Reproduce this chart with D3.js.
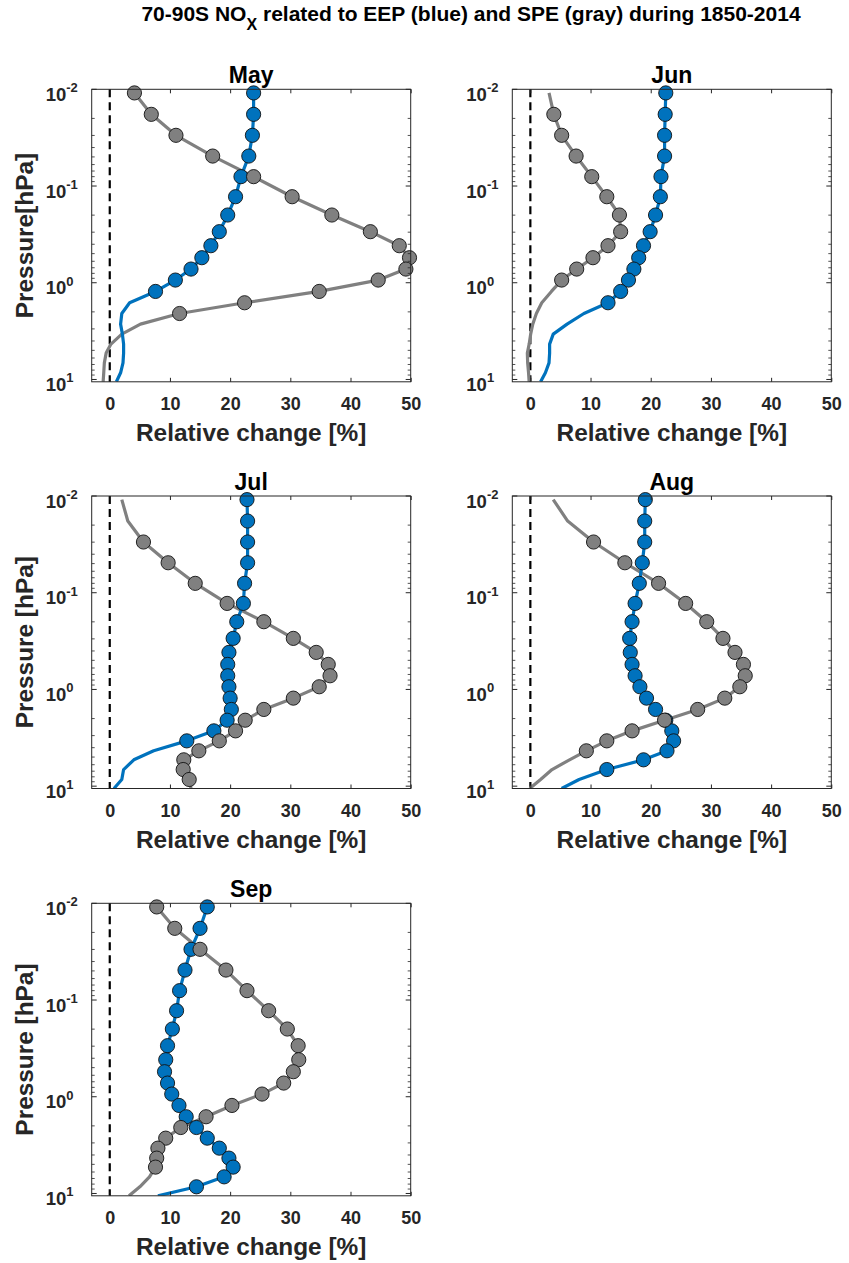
<!DOCTYPE html>
<html>
<head>
<meta charset="utf-8">
<script src="https://cdn.jsdelivr.net/npm/d3@7"></script>
<style>
  html, body { margin: 0; padding: 0; background: #fff; }
  svg { display: block; font-family: "Liberation Sans", Arial, Helvetica, sans-serif; font-weight: bold; }
</style>
</head>
<body>
<svg id="chart" width="849" height="1263"></svg>
<script>
// Model pressure levels (hPa), from the top level down to ~10 hPa
const levels = [0.0109, 0.01815, 0.0299, 0.049, 0.080, 0.129, 0.1994, 0.2965, 0.414, 0.551, 0.722,
                0.938, 1.23, 1.61, 2.08, 2.68, 3.40, 4.31, 5.34, 6.73, 8.53, 10.57];

// Axis ticks
const xTicks = [0, 10, 20, 30, 40, 50];
const yTicks = [0.01, 0.1, 1, 10];
const months = ["May", "Jun", "Jul", "Aug", "Sep"];
const yLabels = ["Pressure[hPa]", "", "Pressure [hPa]", "", "Pressure [hPa]"];

// Relative change [%] of 70-90S NOx attributed to EEP (blue), one value per level
const eepMay = [23.9, 23.9, 23.7, 23.1, 21.8, 20.9, 19.6, 18.2, 16.8, 15.3, 13.5, 10.9, 7.6, 3.3, 2.0, 1.8, 2.1, 2.3, 2.3, 2.2, 1.8, 1.1];
const eepJun = [22.5, 22.4, 22.3, 22.3, 21.7, 21.6, 20.8, 19.9, 18.8, 18.0, 17.2, 16.3, 15.0, 12.9, 8.9, 6.1, 3.8, 3.2, 3.2, 3.1, 2.5, 1.7];
const eepJul = [22.8, 22.9, 22.9, 22.9, 22.4, 22.2, 21.1, 20.5, 19.8, 19.6, 19.6, 19.8, 20.0, 20.2, 19.5, 17.3, 12.8, 7.3, 4.0, 2.3, 2.0, 0.7];
const eepAug = [19.1, 19.0, 19.0, 18.6, 18.1, 17.4, 16.9, 16.5, 16.6, 16.9, 17.4, 18.2, 19.3, 20.8, 22.5, 23.5, 23.8, 22.7, 18.8, 12.7, 8.1, 5.2];
const eepSep = [16.2, 15.0, 13.5, 12.5, 11.6, 11.1, 10.4, 9.6, 9.3, 9.1, 9.6, 10.3, 11.5, 12.7, 14.4, 16.2, 18.2, 19.8, 20.5, 19.0, 14.4, 8.0];

// Relative change [%] attributed to SPE (gray)
const speMay = [4.1, 6.9, 11.0, 17.1, 23.9, 30.3, 36.9, 43.3, 48.1, 49.8, 49.2, 44.6, 34.8, 22.4, 11.6, 5.1, 2.0, 0.2, -0.6, -0.9, -1.0, -1.1];
const speJun = [3.1, 3.9, 5.2, 7.6, 10.2, 12.7, 14.8, 15.0, 12.9, 10.4, 7.7, 5.2, 3.5, 1.9, 1.0, 0.4, 0.05, -0.2, -0.5, -0.45, -0.3, -0.2];
const speJul = [2.0, 3.0, 5.6, 9.7, 14.2, 19.5, 25.6, 30.5, 34.3, 36.3, 36.6, 34.8, 30.5, 25.6, 22.5, 20.9, 18.2, 14.8, 12.3, 12.2, 13.2, 13.5];
const speAug = [3.8, 6.2, 10.5, 15.7, 21.3, 25.8, 29.3, 32.0, 34.0, 35.4, 35.7, 34.8, 32.3, 27.8, 22.3, 16.9, 12.7, 9.3, 6.5, 3.6, 1.7, -0.1];
const speSep = [7.8, 10.8, 15.0, 19.3, 22.8, 26.4, 29.5, 31.3, 31.4, 30.5, 28.9, 25.3, 20.3, 16.0, 11.8, 9.3, 8.0, 7.8, 7.6, 6.6, 5.0, 3.2];

// Level index ranges [first, last] where the response is significant (marked with circles)
const eepSig = [[0, 12], [0, 13], [0, 16], [0, 19], [0, 20]];
const speSig = [[0, 14], [1, 11], [2, 20], [2, 17], [0, 18]];

const eepSeries = [eepMay, eepJun, eepJul, eepAug, eepSep];
const speSeries = [speMay, speJun, speJul, speAug, speSep];

const BLUE = "#0072BD", GRAY = "#808080", AXC = "#262626";

const svg = d3.select("#chart");

// Figure title with subscript
const title = svg.append("text")
  .attr("x", 471).attr("y", 21)
  .attr("text-anchor", "middle")
  .style("font-size", "21px").attr("fill", "#000");
title.append("tspan").text("70-90S NO");
title.append("tspan").attr("dy", 9).style("font-size", "16px").text("X");
title.append("tspan").attr("dy", -9).text(" related to EEP (blue) and SPE (gray) during 1850-2014");

// Panel grid
const colLeft = [91.7, 512.3];
const rowTop = [89.3, 496, 903.3];
const plotW = 319, plotH = 292.5;

months.forEach((m, i) => {
  const left = colLeft[i % 2], top = rowTop[Math.floor(i / 2)];
  const x = d3.scaleLinear().domain([-3, 50]).range([left, left + plotW]);
  const y = d3.scaleLog().domain([0.01, levels[levels.length - 1]]).range([top, top + plotH]);

  const g = svg.append("g");
  const clipId = "clip-" + m;
  g.append("clipPath").attr("id", clipId)
    .append("rect").attr("x", left).attr("y", top).attr("width", plotW).attr("height", plotH);

  // Zero reference line
  g.append("line")
    .attr("x1", x(0)).attr("x2", x(0)).attr("y1", y.range()[0]).attr("y2", y.range()[1])
    .attr("stroke", "#000").attr("stroke-width", 2.2).attr("stroke-dasharray", "8,5");

  const line = d3.line().x(d => x(d.v)).y(d => y(d.p));
  const pts = arr => arr.map((v, k) => ({ v, p: levels[k], k }));

  const spe = pts(speSeries[i]);
  const eep = pts(eepSeries[i]);

  // Profiles
  g.append("path").datum(spe).attr("d", line)
    .attr("fill", "none").attr("stroke", GRAY).attr("stroke-width", 3.2)
    .attr("stroke-linejoin", "round").attr("clip-path", `url(#${clipId})`);
  g.append("path").datum(eep).attr("d", line)
    .attr("fill", "none").attr("stroke", BLUE).attr("stroke-width", 3.2)
    .attr("stroke-linejoin", "round").attr("clip-path", `url(#${clipId})`);

  // Significant levels
  const [e0, e1] = eepSig[i];
  g.selectAll("circle.eep").data(eep.filter(d => d.k >= e0 && d.k <= e1)).join("circle")
    .attr("class", "eep")
    .attr("cx", d => x(d.v)).attr("cy", d => y(d.p)).attr("r", 7.1)
    .attr("fill", BLUE).attr("stroke", "#111").attr("stroke-width", 0.9);
  const [s0, s1] = speSig[i];
  g.selectAll("circle.spe").data(spe.filter(d => d.k >= s0 && d.k <= s1)).join("circle")
    .attr("class", "spe")
    .attr("cx", d => x(d.v)).attr("cy", d => y(d.p)).attr("r", 7.1)
    .attr("fill", GRAY).attr("stroke", "#111").attr("stroke-width", 0.9);

  // Box
  g.append("rect").attr("x", left).attr("y", top).attr("width", plotW).attr("height", plotH)
    .attr("fill", "none").attr("stroke", AXC).attr("stroke-width", 1);

  // X ticks (inward, bottom and top)
  const xAxisB = d3.axisBottom(x).tickValues(xTicks).tickSizeInner(-4).tickSizeOuter(0).tickPadding(10).tickFormat(d3.format("d"));
  const gxb = g.append("g").attr("transform", `translate(0,${top + plotH})`).call(xAxisB);
  gxb.select(".domain").remove();
  gxb.selectAll("line").attr("stroke", AXC);
  gxb.selectAll("text").attr("fill", AXC).style("font-size", "18px")
    .style("font-family", null).style("font-weight", "bold").attr("dy", null).attr("y", 28.5);

  const xAxisT = d3.axisTop(x).tickValues(xTicks).tickSizeInner(-4).tickSizeOuter(0).tickFormat("");
  const gxt = g.append("g").attr("transform", `translate(0,${top})`).call(xAxisT);
  gxt.select(".domain").remove();
  gxt.selectAll("line").attr("stroke", AXC);

  // Y ticks: majors with labels, minors at 2..9
  const minors = [];
  [0.01, 0.1, 1].forEach(dec => { for (let k = 2; k <= 9; k++) minors.push(dec * k); });
  [["L", left, 1], ["R", left + plotW, -1]].forEach(([side, xp, dir]) => {
    g.selectAll("line.ymaj" + side).data(yTicks).join("line")
      .attr("x1", xp).attr("x2", xp + dir * 5)
      .attr("y1", d => y(d)).attr("y2", d => y(d)).attr("stroke", AXC).attr("stroke-width", 1);
    g.selectAll("line.ymin" + side).data(minors.filter(d => d <= y.domain()[1])).join("line")
      .attr("x1", xp).attr("x2", xp + dir * 3)
      .attr("y1", d => y(d)).attr("y2", d => y(d)).attr("stroke", AXC).attr("stroke-width", 0.8);
  });

  const yl = g.selectAll("text.ytick").data(yTicks).join("text")
    .attr("class", "ytick")
    .attr("x", left - 46).attr("y", d => y(d) + 11.5)
    .attr("fill", AXC).style("font-size", "18.5px");
  yl.append("tspan").text("10");
  yl.append("tspan").attr("dy", -8.5).style("font-size", "13px")
    .text(d => String(Math.round(Math.log10(d))));

  // Panel title
  g.append("text").attr("x", left + plotW / 2).attr("y", top - 6.5)
    .attr("text-anchor", "middle").attr("fill", "#000").style("font-size", "23px").text(m);

  // Axis labels
  g.append("text").attr("x", left + plotW / 2).attr("y", top + plotH + 59.5)
    .attr("text-anchor", "middle").attr("fill", AXC).style("font-size", "24.4px")
    .text("Relative change [%]");
  if (yLabels[i]) {
    g.append("text")
      .attr("transform", `translate(33,${top + plotH / 2}) rotate(-90)`)
      .attr("text-anchor", "middle").attr("fill", AXC).style("font-size", "24.4px")
      .text(yLabels[i]);
  }
});
</script>
</body>
</html>
